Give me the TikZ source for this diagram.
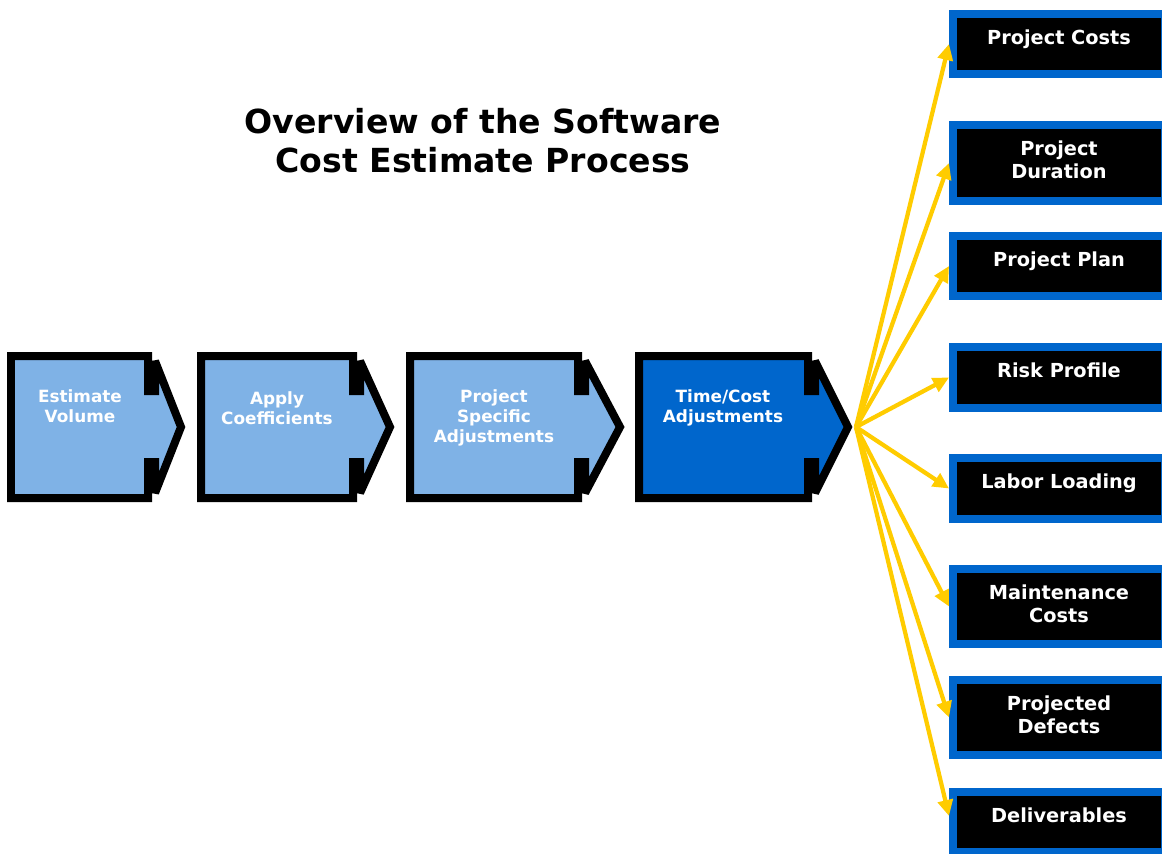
\documentclass[tikz,border=0pt]{standalone}
\usepackage{fontspec}
\setmainfont{DejaVu Sans}
\usetikzlibrary{arrows.meta}

\definecolor{steplight}{HTML}{7FB2E6}
\definecolor{stepdark}{HTML}{0066CC}
\definecolor{feedyellow}{HTML}{FFCC00}

% process arrow: left edge, body right edge, tip, fill colour
\newcommand{\procarrow}[4]{%
  \draw[procline, fill=#4] (#1+4,356) -- (#2-4,356) -- (#2-4,391) -- (#2+3,391)
    -- (#2+3,361) -- (#3,427) -- (#2+3,493) -- (#2+3,462) -- (#2-4,462)
    -- (#2-4,498) -- (#1+4,498) -- cycle;}

\begin{document}
\begin{tikzpicture}[x=0.02cm, y=-0.02cm,
    procline/.style={line width=0.16cm, line join=miter, miter limit=3},
    steptext/.style={text=white, font=\fontsize{9.6}{11.4}\selectfont\bfseries,
      align=center, inner sep=0pt, anchor=north},
    outbox/.style={draw=stepdark, fill=black, line width=0.16cm,
      minimum width=4.24cm, inner sep=0pt},
    outtext/.style={text=white, font=\fontsize{11}{13.6}\selectfont\bfseries,
      align=center, inner sep=0pt, anchor=north},
    feed/.style={draw=feedyellow, line width=0.085cm,
      -{Triangle[length=0.32cm, width=0.3cm]}}]

    \clip (0,0) rectangle (1162,853);
    \fill[white] (0,0) rectangle (1162,853);

    % Title
    \node[font=\fontsize{18.85}{22.4}\selectfont\bfseries, align=center,
      inner sep=0pt, anchor=north] (title) at (483,108)
      {Overview of the Software\\Cost Estimate Process};

    % Process steps
    \procarrow{7}{152}{181}{steplight}
    \procarrow{197}{357}{390}{steplight}
    \procarrow{406}{582}{620}{steplight}
    \procarrow{635}{812}{848}{stepdark}

    \node[steptext] (vol) at (80,389) {Estimate\\Volume};
    \node[steptext] (coef) at (277,391) {Apply\\Coefficients};
    \node[steptext] (spec) at (494,389) {Project\\Specific\\Adjustments};
    \node[steptext] (adj) at (723,389) {Time/Cost\\Adjustments};

    \coordinate (hub) at (856,427);

    % Outputs
    \node[outbox, minimum height=1.2cm] (costs) at (1059,44) {};
    \node[outbox, minimum height=1.52cm] (duration) at (1059,163) {};
    \node[outbox, minimum height=1.2cm] (plan) at (1059,266) {};
    \node[outbox, minimum height=1.22cm] (risk) at (1059,377.5) {};
    \node[outbox, minimum height=1.22cm] (labor) at (1059,488.5) {};
    \node[outbox, minimum height=1.5cm] (maint) at (1059,606.5) {};
    \node[outbox, minimum height=1.5cm] (defects) at (1059,717.5) {};
    \node[outbox, minimum height=1.2cm] (deliver) at (1059,822) {};

    \node[outtext] (costs-t) at ([yshift=-0.38cm]costs.north) {Project Costs};
    \node[outtext] (duration-t) at ([yshift=-0.38cm]duration.north) {Project\\Duration};
    \node[outtext] (plan-t) at ([yshift=-0.38cm]plan.north) {Project Plan};
    \node[outtext] (risk-t) at ([yshift=-0.38cm]risk.north) {Risk Profile};
    \node[outtext] (labor-t) at ([yshift=-0.38cm]labor.north) {Labor Loading};
    \node[outtext] (maint-t) at ([yshift=-0.38cm]maint.north) {Maintenance\\Costs};
    \node[outtext] (defects-t) at ([yshift=-0.38cm]defects.north) {Projected\\Defects};
    \node[outtext] (deliver-t) at ([yshift=-0.38cm]deliver.north) {Deliverables};

    % Connectors from the last step to every output
    \draw[feed] (hub) -- (costs.west);
    \draw[feed] (hub) -- (duration.west);
    \draw[feed] (hub) -- (plan.west);
    \draw[feed] (hub) -- (risk.west);
    \draw[feed] (hub) -- (labor.west);
    \draw[feed] (hub) -- (maint.west);
    \draw[feed] (hub) -- (defects.west);
    \draw[feed] (hub) -- ([yshift=0.12cm]deliver.west);
\end{tikzpicture}
\end{document}
